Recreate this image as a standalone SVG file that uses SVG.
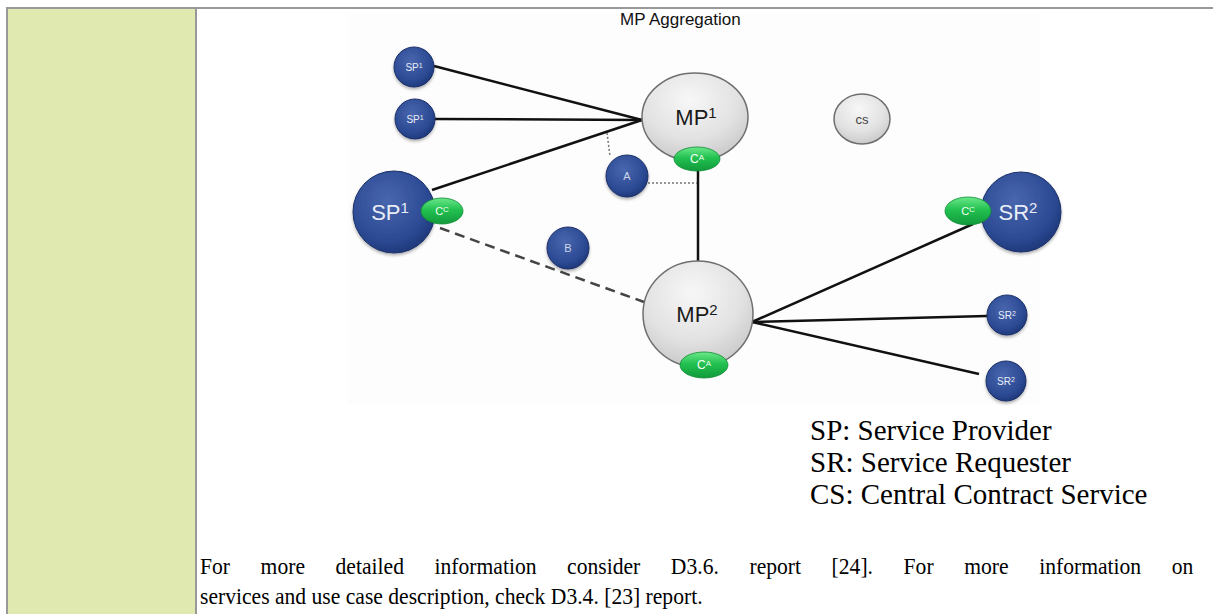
<svg xmlns="http://www.w3.org/2000/svg" width="1213" height="614" viewBox="0 0 1213 614">
<defs>
<radialGradient id="gBlue" cx="0.42" cy="0.35" r="0.7">
<stop offset="0" stop-color="#4866ad"/>
<stop offset="0.7" stop-color="#2c4a94"/>
<stop offset="1" stop-color="#1c3575"/>
</radialGradient>
<radialGradient id="gGray" cx="0.45" cy="0.3" r="0.75">
<stop offset="0" stop-color="#f7f7f7"/>
<stop offset="0.6" stop-color="#e2e2e2"/>
<stop offset="1" stop-color="#c6c6c6"/>
</radialGradient>
<linearGradient id="gGreen" x1="0" y1="0" x2="0" y2="1">
<stop offset="0" stop-color="#6be88a"/>
<stop offset="0.45" stop-color="#22c150"/>
<stop offset="1" stop-color="#129a3c"/>
</linearGradient>
<filter id="sh" x="-30%" y="-30%" width="160%" height="170%">
<feDropShadow dx="0" dy="2" stdDeviation="1.5" flood-color="#000" flood-opacity="0.3"/>
</filter>
</defs>
<style>
.blue{fill:url(#gBlue);stroke:#1a2f68;stroke-width:1;filter:url(#sh)}
.gray{fill:url(#gGray);stroke:#6f6f6f;stroke-width:1.5}
.green{fill:url(#gGreen);stroke:#0e8a33;stroke-width:0.8}
.wt{font-family:"Liberation Sans",Arial,sans-serif;fill:#e9edf7;text-anchor:middle}
.gt{font-family:"Liberation Sans",Arial,sans-serif;fill:#f2fff4;text-anchor:middle}
.dt{font-family:"Liberation Sans",Arial,sans-serif;fill:#1a1a1a;text-anchor:middle}
.solid{stroke:#111;stroke-width:2.5;fill:none}
.dot{stroke:#777;stroke-width:1.5;stroke-dasharray:2 2;fill:none}
.dash{stroke:#444;stroke-width:2.5;stroke-dasharray:10 6;fill:none}
.serif{font-family:"Liberation Serif","Times New Roman",serif;fill:#000}
</style>
<rect width="1213" height="614" fill="#fff"/>
<g id="table">
<rect x="8" y="9" width="187" height="605" fill="#e0eab0"/>
<line x1="6" y1="8" x2="1213" y2="8" stroke="#999" stroke-width="2"/>
<line x1="7" y1="7" x2="7" y2="614" stroke="#999" stroke-width="2"/>
<line x1="196" y1="7" x2="196" y2="614" stroke="#999" stroke-width="2"/>
</g>
<rect x="348" y="15" width="692" height="390" fill="#fdfdfd"/>
<text id="title" x="620" y="25" font-family="Liberation Sans, Arial, sans-serif" font-size="17" fill="#111">MP Aggregation</text>
<g id="connectors">
<line class="solid" x1="434" y1="66" x2="642" y2="120"/>
<line class="solid" x1="435" y1="119" x2="642" y2="120"/>
<line class="solid" x1="432" y1="190" x2="642" y2="120"/>
<line class="solid" x1="698" y1="170" x2="698" y2="262"/>
<line class="solid" x1="752" y1="322" x2="973" y2="224"/>
<line class="solid" x1="752" y1="322" x2="987" y2="316"/>
<line class="solid" x1="752" y1="322" x2="979" y2="374"/>
<line class="dot" x1="607" y1="133" x2="610" y2="156"/>
<line class="dot" x1="648" y1="183" x2="697" y2="183"/>
<line class="dash" x1="440" y1="228" x2="644" y2="302"/>
</g>
<g id="sp1a"><circle class="blue" cx="414" cy="67" r="20"/><text class="wt" x="414" y="71" font-size="10">SP<tspan font-size="7" dy="-3">1</tspan></text></g>
<g id="sp1b"><circle class="blue" cx="415" cy="119" r="20"/><text class="wt" x="415" y="123" font-size="10">SP<tspan font-size="7" dy="-3">1</tspan></text></g>
<g id="sp1big"><circle class="blue" cx="394" cy="212" r="41"/><text class="wt" x="390" y="220" font-size="22">SP<tspan font-size="15" dy="-7">1</tspan></text>
<ellipse class="green" cx="442" cy="211" rx="21" ry="13"/><text class="gt" x="442" y="215" font-size="11">C<tspan font-size="8" dy="-3">C</tspan></text></g>
<g id="mp1"><ellipse class="gray" cx="695" cy="117" rx="53" ry="44"/><text class="dt" x="696" y="125" font-size="22">MP<tspan font-size="15" dy="-7">1</tspan></text>
<ellipse class="green" cx="697" cy="159" rx="23" ry="12"/><text class="gt" x="697" y="163" font-size="12">C<tspan font-size="8" dy="-3">A</tspan></text></g>
<g id="cs"><ellipse class="gray" cx="862" cy="119" rx="28" ry="25"/><text x="862" y="124" font-size="13" font-family="Liberation Sans, Arial, sans-serif" fill="#444" text-anchor="middle">cs</text></g>
<g id="a"><circle class="blue" cx="627" cy="176" r="21"/><text class="wt" x="627" y="180" font-size="11" fill-opacity="0.85">A</text></g>
<g id="b"><circle class="blue" cx="568" cy="248" r="21"/><text class="wt" x="568" y="252" font-size="11" fill-opacity="0.85">B</text></g>
<g id="mp2"><ellipse class="gray" cx="698" cy="314" rx="55" ry="53"/><text class="dt" x="697" y="322" font-size="22">MP<tspan font-size="15" dy="-7">2</tspan></text>
<ellipse class="green" cx="704" cy="365" rx="24" ry="13"/><text class="gt" x="704" y="369" font-size="12">C<tspan font-size="8" dy="-3">A</tspan></text></g>
<g id="sr2big"><circle class="blue" cx="1021" cy="212" r="40"/><text class="wt" x="1018" y="220" font-size="22">SR<tspan font-size="15" dy="-7">2</tspan></text>
<ellipse class="green" cx="968" cy="211" rx="23" ry="14"/><text class="gt" x="968" y="215" font-size="11">C<tspan font-size="8" dy="-3">C</tspan></text></g>
<g id="sr2a"><circle class="blue" cx="1007" cy="315" r="20"/><text class="wt" x="1007" y="319" font-size="10">SR<tspan font-size="7" dy="-3">2</tspan></text></g>
<g id="sr2b"><circle class="blue" cx="1006" cy="381" r="20"/><text class="wt" x="1006" y="385" font-size="10">SR<tspan font-size="7" dy="-3">2</tspan></text></g>
<g id="legend">
<text class="serif" font-size="29" x="810" y="440">SP: Service Provider</text>
<text class="serif" font-size="29" x="810" y="472">SR: Service Requester</text>
<text class="serif" font-size="29" x="810" y="504">CS: Central Contract Service</text>
</g>
<g id="para">
<text class="serif" font-size="24" transform="translate(200,574) scale(0.9,1)" x="0" y="0" word-spacing="28">For more detailed information consider D3.6. report [24]. For more information on</text>
<text class="serif" font-size="24" transform="translate(200,604) scale(0.9,1)" x="0" y="0">services and use case description, check D3.4. [23] report.</text>
</g>
</svg>
